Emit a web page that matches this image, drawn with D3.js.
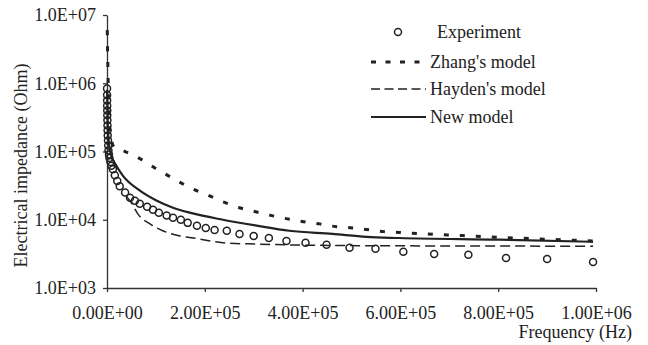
<!DOCTYPE html>
<html>
<head>
<meta charset="utf-8">
<script src="https://cdn.jsdelivr.net/npm/d3@7"></script>
<style>
  html, body { margin: 0; padding: 0; background: #ffffff; }
  svg { display: block; }
  text { font-family: "Liberation Serif", "DejaVu Serif", serif; fill: #222; }
</style>
</head>
<body>
<svg id="chart" width="648" height="345"></svg>
<script>
// ---- data ----
const xTicks = [0, 200000, 400000, 600000, 800000, 1000000];
const xTickLabels = ["0.00E+00", "2.00E+05", "4.00E+05", "6.00E+05", "8.00E+05", "1.00E+06"];
const yTicks = [1e3, 1e4, 1e5, 1e6, 1e7];
const yTickLabels = ["1.0E+03", "1.0E+04", "1.0E+05", "1.0E+06", "1.0E+07"];

const seriesNames = ["Experiment", "Zhang's model", "Hayden's model", "New model"];

const expFreq = [100,200,300,400,500,600,800,1000,1200,1500,2000,2500,3000,4000,5000,7000,9000,12000,16000,21000,
  26000,37000,47000,57000,67000,82000,94000,106000,122000,135000,151000,165000,184000,202000,220000,245000,271000,300000,331000,367000,
  406000,449000,496000,549000,606000,669000,739000,816000,900000,994000];
const expZ = [8.4e5,6.7e5,5.6e5,4.7e5,4.0e5,3.4e5,2.86e5,2.41e5,2.04e5,1.72e5,1.45e5,1.22e5,1.03e5,9.0e4,8.0e4,7.0e4,6.2e4,5.5e4,4.5e4,3.7e4,
  3.1e4,2.5e4,2.1e4,1.9e4,1.72e4,1.55e4,1.40e4,1.27e4,1.15e4,1.07e4,1.0e4,9.0e3,8.2e3,7.6e3,7.1e3,6.9e3,6.2e3,5.8e3,5.4e3,4.9e3,
  4.6e3,4.3e3,3.9e3,3.75e3,3.4e3,3.16e3,3.06e3,2.76e3,2.67e3,2.41e3];

const zhangFreq = [500,1000,2000,3000,5000,8000,15000,32700,71000,104000,139000,169000,204000,237000,271000,304000,
  337000,369000,402000,435000,469000,502000,537000,567000,598000,741000,863000,994000];
const zhangZ = [6.0e6,3.6e6,1.5e6,6.0e5,2.5e5,1.6e5,1.15e5,1.03e5,7.6e4,5.4e4,3.9e4,2.96e4,2.33e4,1.84e4,1.5e4,1.31e4,
  1.15e4,1.03e4,9.35e3,8.7e3,7.9e3,7.6e3,7.1e3,6.7e3,6.5e3,5.8e3,5.3e3,4.9e3];

const haydenFreq = [40000,51000,63000,88000,114000,149000,184000,237000,306000,394000,598000,994000];
const haydenZ = [2.2e4,1.72e4,1.22e4,8.7e3,6.9e3,5.8e3,5.3e3,4.6e3,4.4e3,4.25e3,4.15e3,4.1e3];

const newFreq = [200,1000,3000,8000,16300,32700,67300,102000,135000,169000,237000,306000,373000,461000,531000,598000,802000,994000];
const newZ = [8.0e5,3.5e5,1.5e5,9.0e4,6.7e4,4.4e4,2.67e4,1.9e4,1.5e4,1.27e4,1.0e4,8.2e3,6.9e3,6.2e3,5.6e3,5.4e3,5.1e3,4.75e3];

// ---- layout ----
const svg = d3.select("#chart");
const plot = { left: 107, right: 596, top: 15, bottom: 288 };
const ink = "#222";
const fontSize = 18;

const x = d3.scaleLinear().domain([0, 1000000]).range([plot.left, plot.right]);
const y = d3.scaleLog().domain([1e3, 1e7]).range([plot.bottom, plot.top]);

// axes
const yAxis = d3.axisLeft(y).tickValues(yTicks)
  .tickFormat((d, i) => yTickLabels[i]).tickSizeInner(4).tickSizeOuter(0).tickPadding(7);
const xAxis = d3.axisBottom(x).tickValues(xTicks)
  .tickFormat((d, i) => xTickLabels[i]).tickSizeInner(4).tickSizeOuter(0).tickPadding(14);

const gy = svg.append("g").attr("transform", `translate(${plot.left},0)`).call(yAxis);
const gx = svg.append("g").attr("transform", `translate(0,${plot.bottom})`).call(xAxis);
[gx, gy].forEach(g => {
  g.select(".domain").attr("stroke", "#333").attr("stroke-width", 1.3);
  g.selectAll(".tick line").attr("stroke", "#333").attr("stroke-width", 1.3);
  g.selectAll(".tick text").attr("font-family", "Liberation Serif").attr("font-size", fontSize).attr("fill", ink);
});

// axis titles
svg.append("text")
  .attr("transform", `translate(27,${(plot.top + plot.bottom) / 2 + 14}) rotate(-90)`)
  .attr("text-anchor", "middle").attr("font-size", fontSize)
  .attr("fill", ink).style("fill", ink)
  .text("Electrical impedance (Ohm)");
svg.append("text")
  .attr("x", 632).attr("y", 338).attr("text-anchor", "end").attr("font-size", fontSize)
  .attr("fill", ink)
  .text("Frequency (Hz)");

// lines
const line = d3.line().x(d => x(d[0])).y(d => y(d[1])).curve(d3.curveMonotoneX);
const styles = {
  zhang: { w: 3, dash: "5,11" },
  hayden: { w: 1.5, dash: "10,5" },
  newm: { w: 2.2, dash: null }
};
function drawLine(fr, zs, st) {
  svg.append("path")
    .datum(fr.map((f, i) => [f, zs[i]]))
    .attr("fill", "none").attr("stroke", ink)
    .attr("stroke-width", st.w)
    .attr("stroke-dasharray", st.dash)
    .attr("d", line);
}
drawLine(zhangFreq, zhangZ, styles.zhang);
drawLine(haydenFreq, haydenZ, styles.hayden);
drawLine(newFreq, newZ, styles.newm);

// experiment markers
svg.append("g").selectAll("circle")
  .data(expFreq.map((f, i) => [f, expZ[i]]))
  .join("circle")
  .attr("cx", d => x(d[0])).attr("cy", d => y(d[1])).attr("r", 3.5)
  .attr("fill", "none").attr("stroke", ink).attr("stroke-width", 1.5);

// legend
const lg = svg.append("g");
lg.append("circle").attr("cx", 398).attr("cy", 32).attr("r", 3.5)
  .attr("fill", "none").attr("stroke", ink).attr("stroke-width", 1.5);
lg.append("text").attr("x", 437).attr("y", 38).attr("font-size", fontSize).attr("fill", ink).text(seriesNames[0]);
const legRows = [
  { y: 62, st: styles.zhang, dash: "5,9.5", name: seriesNames[1] },
  { y: 89, st: styles.hayden, dash: "9,4.5", name: seriesNames[2] },
  { y: 117, st: styles.newm, dash: null, name: seriesNames[3] }
];
legRows.forEach(r => {
  lg.append("line").attr("x1", 371).attr("x2", 426).attr("y1", r.y).attr("y2", r.y)
    .attr("stroke", ink).attr("stroke-width", r.st.w)
    .attr("stroke-dasharray", r.dash);
  lg.append("text").attr("x", 430).attr("y", r.y + 6).attr("font-size", fontSize).attr("fill", ink).text(r.name);
});
</script>
</body>
</html>
